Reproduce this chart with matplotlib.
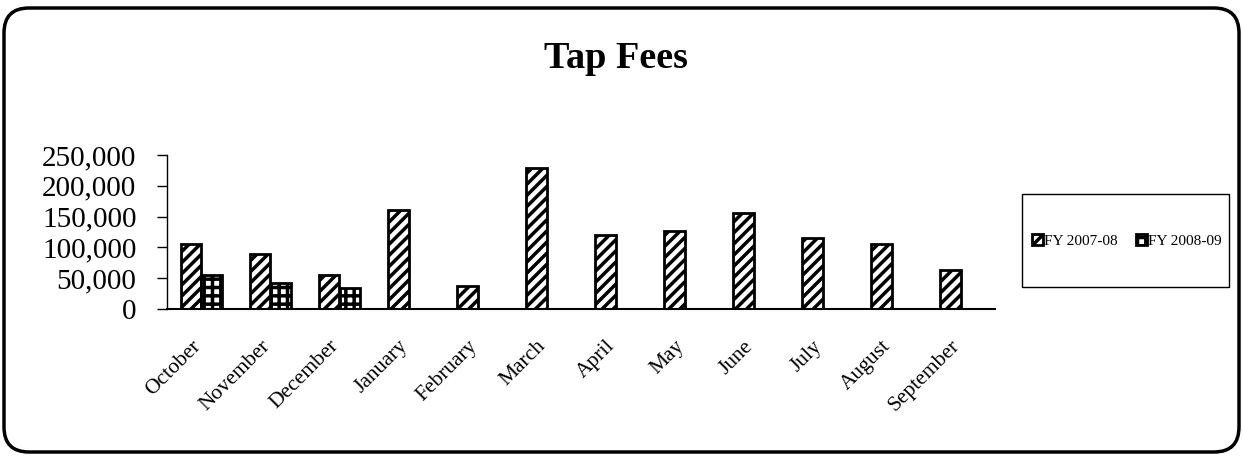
import numpy as np
import matplotlib
matplotlib.use('Agg')
import matplotlib.pyplot as plt
from matplotlib.patches import FancyBboxPatch, Rectangle
from matplotlib.transforms import IdentityTransform, ScaledTranslation
from matplotlib.ticker import StrMethodFormatter

# data
months = ['October', 'November', 'December', 'January', 'February', 'March',
          'April', 'May', 'June', 'July', 'August', 'September']
fy_2007_08 = [106000, 89000, 55000, 161000, 37000, 229000,
              120000, 127000, 156000, 115000, 106000, 64000]
fy_2008_09 = [56000, 42000, 34000, 0, 0, 0, 0, 0, 0, 0, 0, 0]
y_ticks = [0, 50000, 100000, 150000, 200000, 250000]

plt.rcParams['font.family'] = ['Liberation Serif', 'DejaVu Serif']

fig = plt.figure(figsize=(12.43, 4.58), dpi=100)
ax = fig.add_axes([167 / 1243, 1 - 309 / 458, 828 / 1243, 154 / 458])

x = np.arange(len(months))
w = 0.29

plt.rcParams['hatch.linewidth'] = 2.5
ax.bar(x - w / 2, fy_2007_08, w, color='white', edgecolor='black',
       linewidth=2, hatch='///', label='FY 2007-08')
plt.rcParams['hatch.linewidth'] = 2.5
# only draw the months that have FY 2008-09 values
has_08 = [v > 0 for v in fy_2008_09]
ax.bar(x[has_08] + w / 2, np.array(fy_2008_09)[has_08], w, color='white',
       edgecolor='black', linewidth=2, hatch='++', label='FY 2008-09')

ax.set_xlim(-0.5, len(months) - 0.5)
ax.set_ylim(0, 250000)
ax.set_yticks(y_ticks)
ax.yaxis.set_major_formatter(StrMethodFormatter('{x:,.0f}'))
ax.tick_params(axis='y', labelsize=21, length=7, width=1, pad=15)
ax.set_xticks(x)
ax.set_xticklabels(months, rotation=45, ha='right', va='top',
                   rotation_mode='anchor', fontsize=15.5)
ax.tick_params(axis='x', length=0, pad=20)
# nudge the rotated labels left so their ends sit under the bars
shift = ScaledTranslation(-10 / 100, 0, fig.dpi_scale_trans)
for lbl in ax.get_xticklabels():
    lbl.set_transform(lbl.get_transform() + shift)

for s in ['top', 'right']:
    ax.spines[s].set_visible(False)
ax.spines['left'].set_linewidth(1)
ax.spines['bottom'].set_linewidth(1.5)

fig.text(616 / 1243, 1 - 58 / 458, 'Tap Fees', ha='center', va='center',
         fontsize=27.5, fontweight='bold')

# legend box
fig.patches.append(Rectangle((1022, 458 - 287), 207, 93, fill=False,
                             edgecolor='black', linewidth=1,
                             transform=IdentityTransform(), figure=fig))
fig.legend(loc='center', bbox_to_anchor=(1127 / 1243, 1 - 241 / 458),
           ncol=2, frameon=False, fontsize=11, handlelength=0.7,
           handleheight=0.7, handletextpad=0.1, columnspacing=1.2)

# rounded outer border
fig.patches.append(FancyBboxPatch((4, 6), 1235, 444,
                                  boxstyle='round,pad=0,rounding_size=25',
                                  fill=False, edgecolor='black', linewidth=2.5,
                                  transform=IdentityTransform(), figure=fig))

fig.savefig('out.png', dpi=100)
